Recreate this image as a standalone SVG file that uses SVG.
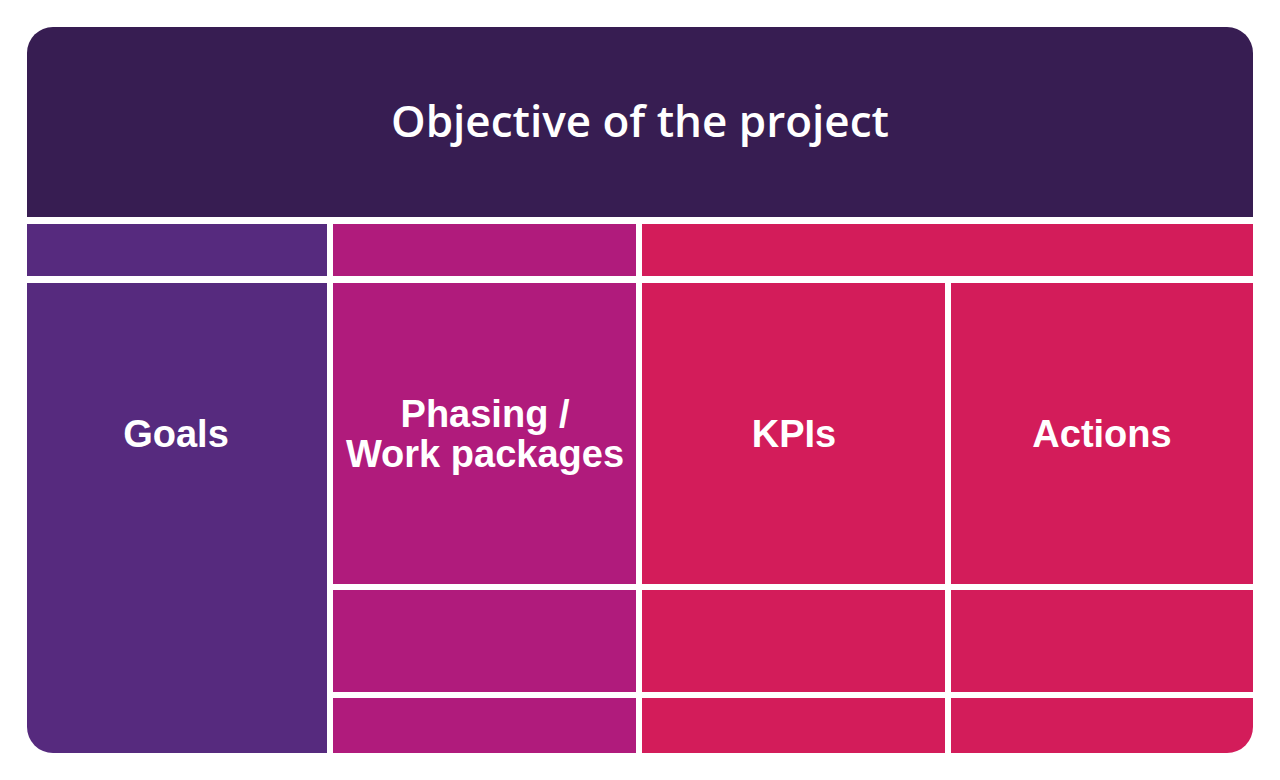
<svg xmlns="http://www.w3.org/2000/svg" width="1280" height="780" viewBox="0 0 1280 780">
<defs>
<clipPath id="card"><rect x="27" y="27" width="1226" height="726" rx="26" ry="26"/></clipPath>
<style>
.p{fill:#562a7e}.m{fill:#b01b7c}.r{fill:#d31c5a}.h{fill:#371d52}
.t{font-family:"Liberation Sans",Arial,sans-serif;font-weight:bold;font-size:38px;fill:#fff;text-anchor:middle}
.title{font-family:"Open Sans","Liberation Sans",sans-serif;font-weight:600;font-size:44px;fill:#fff;text-anchor:middle}
</style>
</defs>
<rect width="1280" height="780" fill="#fff"/>
<g clip-path="url(#card)">
<g id="header"><rect class="h" x="27" y="27" width="1226" height="190"/><text class="title" x="640" y="137">Objective of the project</text></g>
<g id="goals-top"><rect class="p" x="27" y="224" width="300" height="52"/></g>
<g id="phasing-top"><rect class="m" x="333" y="224" width="303" height="52"/></g>
<g id="kpi-actions-top"><rect class="r" x="642" y="224" width="611" height="52"/></g>
<g id="goals"><rect class="p" x="27" y="283" width="300" height="470"/><text class="t" x="176" y="447">Goals</text></g>
<g id="phasing"><rect class="m" x="333" y="283" width="303" height="301"/><text class="t" x="485" y="427">Phasing /</text><text class="t" x="485" y="467">Work packages</text></g>
<g id="kpis"><rect class="r" x="642" y="283" width="303" height="301"/><text class="t" x="794" y="447">KPIs</text></g>
<g id="actions"><rect class="r" x="951" y="283" width="302" height="301"/><text class="t" x="1102" y="447">Actions</text></g>
<g id="phasing-r2"><rect class="m" x="333" y="590" width="303" height="102"/></g>
<g id="kpis-r2"><rect class="r" x="642" y="590" width="303" height="102"/></g>
<g id="actions-r2"><rect class="r" x="951" y="590" width="302" height="102"/></g>
<g id="phasing-r3"><rect class="m" x="333" y="698" width="303" height="55"/></g>
<g id="kpis-r3"><rect class="r" x="642" y="698" width="303" height="55"/></g>
<g id="actions-r3"><rect class="r" x="951" y="698" width="302" height="55"/></g>
</g>
<g id="connectors"/>
</svg>
